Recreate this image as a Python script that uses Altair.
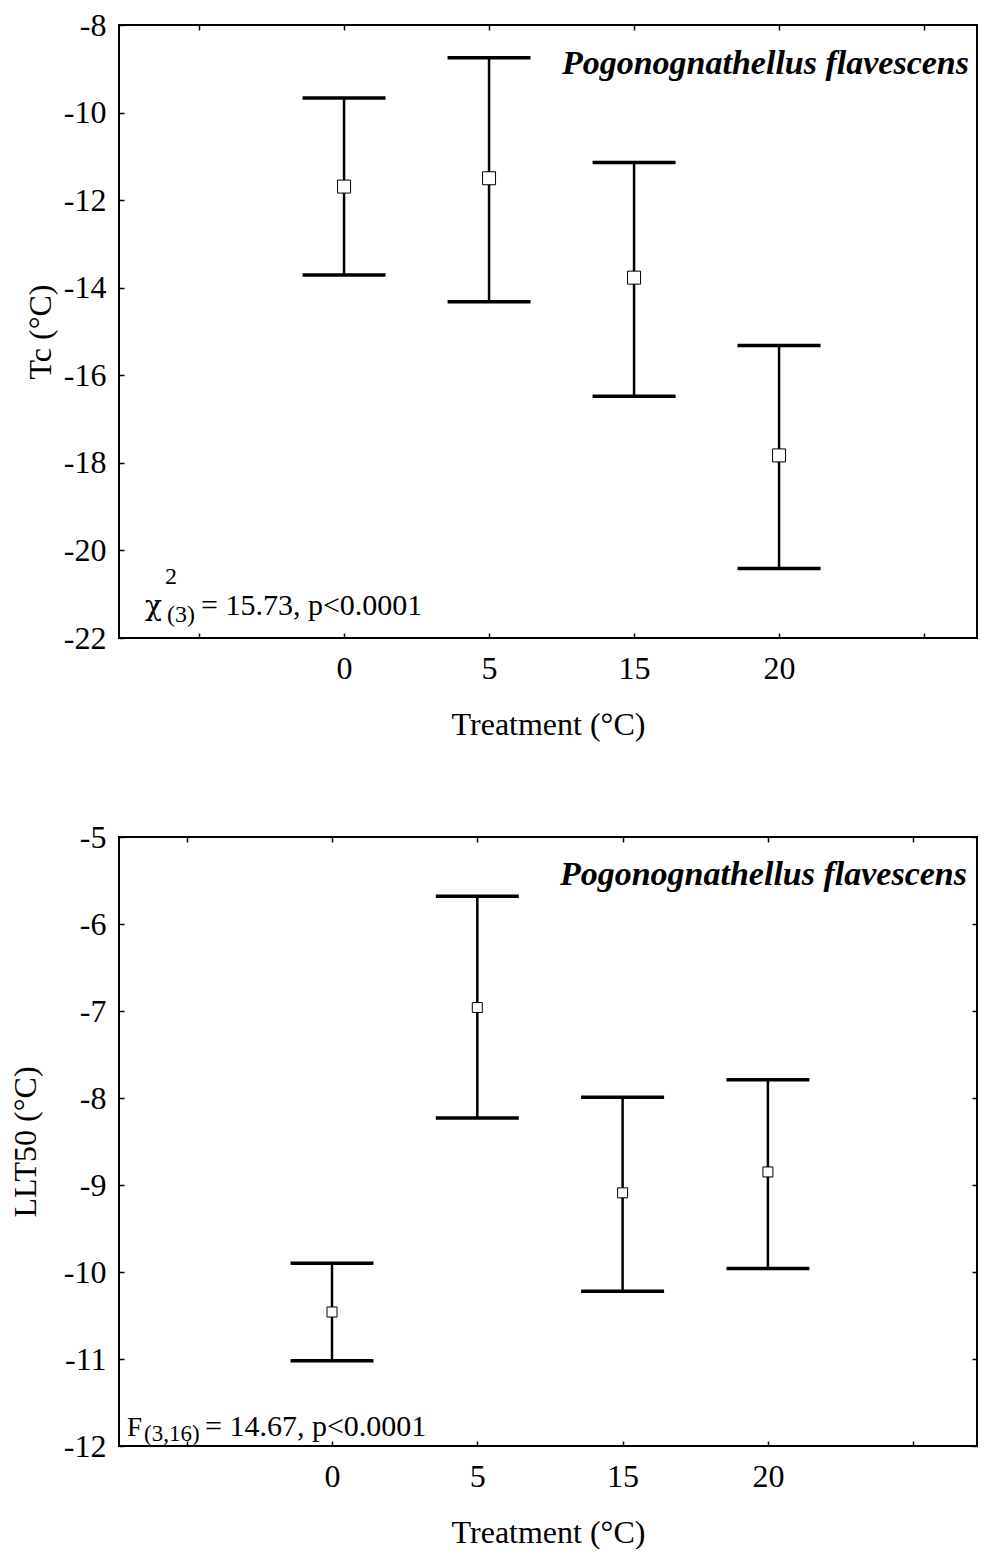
import json
import altair as alt
import pandas as pd

treatments = ["0", "5", "15", "20"]
x_ticks = [-1, 0, 1, 2, 3, 4]

tc_mean = [-11.69, -11.50, -13.77, -17.83]
tc_upper = [-9.67, -8.75, -11.14, -15.32]
tc_lower = [-13.71, -14.32, -16.48, -20.41]
tc_ticks = [-22, -20, -18, -16, -14, -12, -10, -8]

llt_mean = [-10.46, -6.96, -9.09, -8.85]
llt_upper = [-9.90, -5.68, -7.99, -7.79]
llt_lower = [-11.02, -8.23, -10.22, -9.96]
llt_ticks = [-12, -11, -10, -9, -8, -7, -6, -5]

species = "Pogonognathellus flavescens"
FONT = "Liberation Serif"

label_expr = json.dumps([""] + treatments + [""]).replace('"', "'") + "[datum.value + 1]"


def txt(s, x, y, size, align="left", style="normal", weight="normal", font=FONT):
    return alt.Chart(pd.DataFrame({"t": [s]})).mark_text(
        font=font, fontSize=size, align=align, baseline="alphabetic",
        fontStyle=style, fontWeight=weight, color="black"
    ).encode(text="t:N", x=alt.value(x), y=alt.value(y))


def panel(means, uppers, lowers, yticks, ytitle, width, height, xdom, sq,
          title_pad, extra_layers, right_ticks=True):
    df = pd.DataFrame({"idx": list(range(len(treatments))), "mean": means,
                       "upper": uppers, "lower": lowers})
    xs = alt.Scale(domain=xdom, nice=False, zero=False)
    ys = alt.Scale(domain=[min(yticks), max(yticks)], nice=False, zero=False)
    base = alt.Chart(df)
    rules = base.mark_rule(strokeWidth=2.5, color="black").encode(
        x=alt.X("idx:Q", scale=xs, axis=alt.Axis(
            orient="bottom", values=x_ticks, labelExpr=label_expr,
            title="Treatment (°C)", tickSize=5, offset=-5, domain=False,
            grid=False, labelPadding=15, titlePadding=25)),
        y=alt.Y("lower:Q", scale=ys, axis=alt.Axis(
            orient="left", values=yticks, title=ytitle, tickSize=5, offset=-5,
            labelExpr="'' + datum.value",
            domain=False, grid=False, labelPadding=13, titlePadding=title_pad)),
        y2="upper:Q",
    )
    if right_ticks:
        yaxis2 = alt.Axis(orient="right", values=yticks, labels=False, title=None,
                          tickSize=5, offset=-5, domain=False, grid=False)
    else:
        yaxis2 = None
    caps = base.transform_fold(["upper", "lower"], as_=["which", "val"]).mark_tick(
        orient="horizontal", size=83, thickness=3.5, color="black", opacity=1
    ).encode(
        x=alt.X("idx:Q", scale=xs, axis=alt.Axis(
            orient="top", values=x_ticks, labels=False, title=None, tickSize=5,
            offset=-5, domain=False, grid=False)),
        y=alt.Y("val:Q", scale=ys, axis=yaxis2),
    )
    pts = base.mark_square(size=sq, filled=True, fill="white", stroke="black",
                           strokeWidth=1, opacity=1).encode(
        x=alt.X("idx:Q", scale=xs, axis=None),
        y=alt.Y("mean:Q", scale=ys, axis=None),
    )
    return alt.layer(rules, caps, pts, *extra_layers).resolve_axis(
        x="independent", y="independent"
    ).properties(width=width, height=height)


TW, TH = 858, 613
top_text = [
    txt(species, 850, 49, 34, align="right", style="italic", weight="bold"),
    txt("χ", 26, TH - 23, 28, font="DejaVu Serif"),
    txt("2", 46, TH - 54, 24),
    txt("(3)", 48, TH - 16, 24),
    txt("= 15.73, p<0.0001", 82, TH - 23, 30),
]
top = panel(tc_mean, tc_upper, tc_lower, tc_ticks, "Tc (°C)", TW, TH,
            [-1.552, 4.365], 169, 6, top_text, right_ticks=False)

BW, BH = 858, 609
bot_text = [
    txt(species, 848, 48, 34, align="right", style="italic", weight="bold"),
    txt("F", 8, BH - 10, 27),
    txt("(3,16)", 25, BH - 5, 23),
    txt("= 14.67, p<0.0001", 86, BH - 10, 30),
]
bot = panel(llt_mean, llt_upper, llt_lower, llt_ticks, "LLT50 (°C)", BW, BH,
            [-1.466, 4.439], 100, 21, bot_text)

chart = alt.vconcat(top, bot, spacing=79).properties(
    padding={"left": 0, "top": 0, "right": 0, "bottom": 0},
    background="white",
).configure_view(stroke="black", strokeWidth=2).configure_axis(
    labelFont=FONT, labelFontSize=32, labelColor="black",
    titleFont=FONT, titleFontSize=32, titleFontWeight="normal", titleColor="black",
    tickColor="black", tickWidth=1.5,
)

chart.save("out.html", embed_options={"renderer": "svg", "actions": False})
